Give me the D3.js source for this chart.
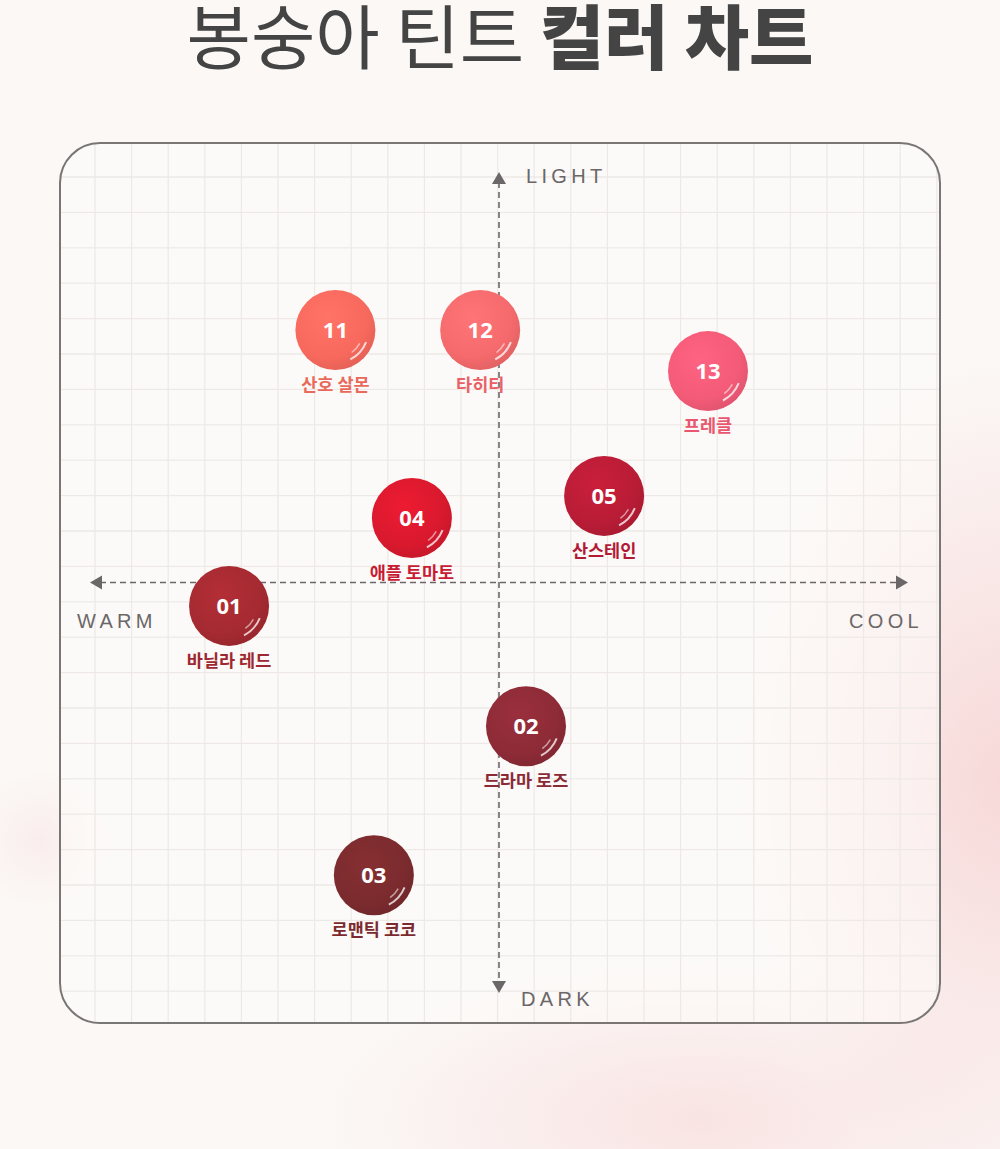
<!DOCTYPE html>
<html><head><meta charset="utf-8">
<script src="https://cdn.jsdelivr.net/npm/d3@7"></script>
<style>html,body{margin:0;padding:0;background:#fbf8f6;overflow:hidden}</style>
</head><body><svg id="c" width="1000" height="1149"></svg>
<script>
const codes = ["11","12","13","04","05","01","02","03"];
const names = ["산호 살몬","타히티","프레클","애플 토마토","산스테인","바닐라 레드","드라마 로즈","로맨틱 코코"];
const warmCool = [-4.0,-0.46,5.11,-2.13,2.57,-6.6,0.66,-3.06];
const lightDark = [6.15,6.15,5.15,1.57,2.11,-0.57,-3.5,-7.13];
const swatch = ["#f8695d","#f56a6c","#f45b78","#d9192e","#b91c36","#a52a31","#8d2b37","#7b2b2e"];
const labelColor = ["#e9695b","#e96166","#e8566f","#c81b34","#b21a36","#9e2731","#8a2a36","#7c2a2f"];
const axisNames = ["LIGHT","DARK","WARM","COOL"];

const svg = d3.select("#c");
const defs = svg.append("defs");
const bg1 = defs.append("radialGradient").attr("id","bg1").attr("cx","0.5").attr("cy","0.5").attr("r","0.5");
bg1.append("stop").attr("offset","0").attr("stop-color","#f6cfcf").attr("stop-opacity",0.75);
bg1.append("stop").attr("offset","1").attr("stop-color","#f6cfcf").attr("stop-opacity",0);
const bg2 = defs.append("radialGradient").attr("id","bg2").attr("cx","0.5").attr("cy","0.5").attr("r","0.5");
bg2.append("stop").attr("offset","0").attr("stop-color","#f7d6d6").attr("stop-opacity",0.6);
bg2.append("stop").attr("offset","1").attr("stop-color","#f7d6d6").attr("stop-opacity",0);
svg.append("rect").attr("width",1000).attr("height",1149).attr("fill","#fbf8f6");
svg.append("ellipse").attr("cx",1000).attr("cy",780).attr("rx",260).attr("ry",420).attr("fill","url(#bg1)");
svg.append("ellipse").attr("cx",700).attr("cy",1120).attr("rx",380).attr("ry",160).attr("fill","url(#bg2)");
svg.append("ellipse").attr("cx",40).attr("cy",840).attr("rx",70).attr("ry",70).attr("fill","url(#bg2)").attr("opacity",0.5);

// title
const title = svg.append("text").attr("x",500).attr("y",64).attr("text-anchor","middle")
  .attr("font-family","'Noto Sans CJK KR'").attr("font-size",70).attr("fill","#444");
title.append("tspan").attr("font-weight",400).text("봉숭아 틴트 ");
title.append("tspan").attr("font-weight",900).text("컬러 차트");

// panel
const P = {x0:60,y0:143,x1:940,y1:1023};
const clip = defs.append("clipPath").attr("id","pc");
clip.append("rect").attr("x",P.x0).attr("y",P.y0).attr("width",P.x1-P.x0).attr("height",P.y1-P.y0).attr("rx",40);
svg.append("rect").attr("x",P.x0).attr("y",P.y0).attr("width",P.x1-P.x0).attr("height",P.y1-P.y0).attr("rx",40)
  .attr("fill","#fdfbfa").attr("fill-opacity",0.55);
const grid = svg.append("g").attr("clip-path","url(#pc)");
const gx = d3.range(P.x0+35, P.x1, 36.6);
const gy = d3.range(P.y0+34, P.y1, 35.4);
grid.selectAll("line.v").data(gx).join("line").attr("x1",d=>d).attr("x2",d=>d).attr("y1",P.y0).attr("y2",P.y1)
  .attr("stroke","#eee9e7").attr("stroke-width",1.3);
grid.selectAll("line.h").data(gy).join("line").attr("y1",d=>d).attr("y2",d=>d).attr("x1",P.x0).attr("x2",P.x1)
  .attr("stroke","#eee9e7").attr("stroke-width",1.3);
svg.append("rect").attr("x",P.x0).attr("y",P.y0).attr("width",P.x1-P.x0).attr("height",P.y1-P.y0).attr("rx",40)
  .attr("fill","none").attr("stroke","#7a7676").attr("stroke-width",2);

// scales
const x = d3.scaleLinear().domain([-10,10]).range([90,908]);
const y = d3.scaleLinear().domain([-10,10]).range([993,172]);

// axes
const ax = svg.append("g").attr("stroke","#6b6768").attr("stroke-width",1.6).attr("stroke-dasharray","6,4");
ax.append("line").attr("x1",x(-10)+10).attr("x2",x(10)-10).attr("y1",y(0)).attr("y2",y(0));
ax.append("line").attr("x1",x(0)).attr("x2",x(0)).attr("y1",y(10)+10).attr("y2",y(-10)-10);
const tri = (cx,cy,dir)=>{
  const s=7,l=12;
  if(dir==="l") return `M${cx},${cy} L${cx+l},${cy-s} L${cx+l},${cy+s}Z`;
  if(dir==="r") return `M${cx},${cy} L${cx-l},${cy-s} L${cx-l},${cy+s}Z`;
  if(dir==="u") return `M${cx},${cy} L${cx-s},${cy+l} L${cx+s},${cy+l}Z`;
  return `M${cx},${cy} L${cx-s},${cy-l} L${cx+s},${cy-l}Z`;
};
svg.append("path").attr("d",tri(x(-10),y(0),"l")).attr("fill","#6b6768");
svg.append("path").attr("d",tri(x(10),y(0),"r")).attr("fill","#6b6768");
svg.append("path").attr("d",tri(x(0),y(10),"u")).attr("fill","#6b6768");
svg.append("path").attr("d",tri(x(0),y(-10),"d")).attr("fill","#6b6768");

const axPos = [[x(0)+27,y(10)+11,"start"],[x(0)+22,y(-10)+13,"start"],[x(-10)-13,y(0)+45,"start"],[x(10)+15,y(0)+45,"end"]];
svg.selectAll("text.ax").data(axisNames).join("text").attr("class","ax")
  .attr("x",(d,i)=>axPos[i][0]).attr("y",(d,i)=>axPos[i][1]).attr("text-anchor",(d,i)=>axPos[i][2])
  .attr("font-family","'Liberation Sans', Arial").attr("font-size",20).attr("letter-spacing",4.3)
  .attr("fill","#6b6768").text(d=>d);

// swatches
const data = codes.map((c,i)=>({c,n:names[i],x:warmCool[i],y:lightDark[i],col:swatch[i],lc:labelColor[i]}));
data.forEach((d,i)=>{
  const g = defs.append("radialGradient").attr("id","g"+i).attr("cx","0.4").attr("cy","0.35").attr("r","0.7");
  g.append("stop").attr("offset","0").attr("stop-color",d3.color(d.col).brighter(0.25));
  g.append("stop").attr("offset","0.7").attr("stop-color",d.col);
  g.append("stop").attr("offset","1").attr("stop-color",d3.color(d.col).darker(0.25));
});
const R = 40;
const sw = svg.selectAll("g.sw").data(data).join("g").attr("class","sw")
  .attr("transform",d=>`translate(${x(d.x)},${y(d.y)})`);
sw.append("circle").attr("r",R).attr("fill",(d,i)=>`url(#g${i})`);
const arc1 = d3.arc().innerRadius(R-8).outerRadius(R-6).startAngle(Math.PI*0.62).endAngle(Math.PI*0.85);
const arc2 = d3.arc().innerRadius(R-13).outerRadius(R-11.5).startAngle(Math.PI*0.66).endAngle(Math.PI*0.8);
sw.append("path").attr("d",arc1()).attr("fill","#fff").attr("opacity",0.75);
sw.append("path").attr("d",arc2()).attr("fill","#fff").attr("opacity",0.55);
sw.append("text").attr("y",8).attr("text-anchor","middle").attr("font-family","'Noto Sans', sans-serif")
  .attr("font-weight",700).attr("font-size",22).attr("fill","#fff").text(d=>d.c);
sw.append("text").attr("y",R+21).attr("text-anchor","middle").attr("font-family","'Noto Sans CJK KR'")
  .attr("font-weight",700).attr("font-size",17.5).attr("fill",d=>d.lc).text(d=>d.n);
</script></body></html>
